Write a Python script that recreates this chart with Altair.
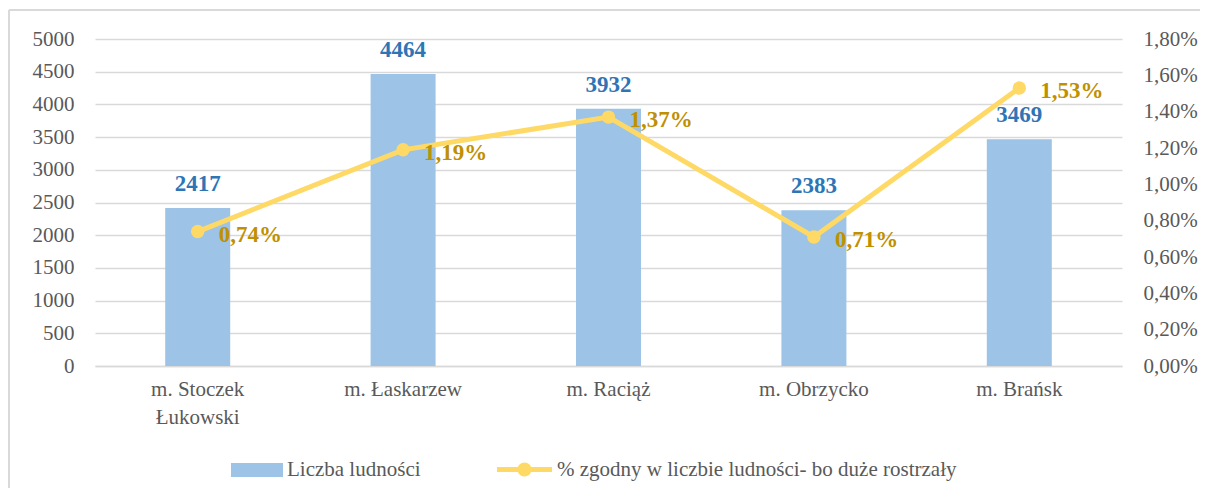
import altair as alt
import pandas as pd

categories = ["m. Stoczek Łukowski", "m. Łaskarzew", "m. Raciąż", "m. Obrzycko", "m. Brańsk"]
population = [2417, 4464, 3932, 2383, 3469]
percent = [0.74, 1.19, 1.37, 0.71, 1.53]
left_ticks = [0, 500, 1000, 1500, 2000, 2500, 3000, 3500, 4000, 4500, 5000]
right_ticks = [0, 0.2, 0.4, 0.6, 0.8, 1.0, 1.2, 1.4, 1.6, 1.8]
bar_series = "Liczba ludności"
line_series = "% zgodny w liczbie ludności- bo duże rostrzały"

df = pd.DataFrame({"cat": categories, "pop": population, "pct": percent})
df["bar_series"] = bar_series
df["line_series"] = line_series

FONT = "Liberation Serif"
GREY = "#595959"
GRID = "#d9d9d9"
W, H = 1027, 327
FS = 21      # regular text size
BFS = 23     # bold data label size

x = alt.X("cat:N", sort=categories, title=None,
          scale=alt.Scale(paddingInner=0, paddingOuter=0),
          axis=alt.Axis(labelAngle=0, ticks=False, domainColor=GRID, domainWidth=1.5,
                        labelFont=FONT, labelFontSize=FS, labelColor=GREY,
                        labelPadding=12, labelLineHeight=28,
                        labelExpr="datum.label == 'm. Stoczek Łukowski' ? ['m. Stoczek', 'Łukowski'] : datum.label"))

base = alt.Chart(df)

left_scale = alt.Scale(domain=[0, 5000], nice=False)
y_left = alt.Y("pop:Q", title=None, scale=left_scale,
               axis=alt.Axis(values=left_ticks, format="d", orient="left", domain=False,
                             ticks=False, grid=True, gridColor=GRID, gridWidth=1.5,
                             labelFont=FONT, labelFontSize=FS, labelColor=GREY, labelPadding=21))

bar_path = "M-1,-0.27L1,-0.27L1,0.27L-1,0.27Z"
line_path = ("M-1,-0.09L1,-0.09L1,0.09L-1,0.09Z"
             "M0.255,0A0.255,0.255,0,1,1,-0.255,0A0.255,0.255,0,1,1,0.255,0Z")

legend_common = dict(title=None, orient="none", symbolStrokeWidth=0, symbolOpacity=1,
                     labelFont=FONT, labelFontSize=FS, labelColor=GREY, labelLimit=0)

bars = base.mark_bar(size=65).encode(
    x=x, y=y_left,
    fill=alt.Fill("bar_series:N", scale=alt.Scale(domain=[bar_series], range=["#9DC3E6"]),
                  legend=alt.Legend(legendX=136, legendY=405, symbolType=bar_path,
                                    symbolSize=2704, labelOffset=4, **legend_common)),
)
bar_text = base.mark_text(baseline="bottom", dy=-12, font=FONT, fontSize=BFS,
                          fontWeight="bold", color="#2E75B6").encode(
    x=x, y=y_left, text=alt.Text("pop:Q", format="d"),
)
left_layer = alt.layer(bars, bar_text)

y_right = alt.Y("pct:Q", title=None, scale=alt.Scale(domain=[0, 1.8], nice=False),
                axis=alt.Axis(values=right_ticks, orient="right", domain=False, ticks=False,
                              grid=False, labelFont=FONT, labelFontSize=FS, labelColor=GREY,
                              labelPadding=21,
                              labelExpr="replace(format(datum.value, '.2f'), '.', ',') + '%'"))

line = base.mark_line(color="#FFD966", strokeWidth=5).encode(x=x, y=y_right)
points = base.mark_circle(size=180, opacity=1).encode(
    x=x, y=y_right,
    color=alt.Color("line_series:N", scale=alt.Scale(domain=[line_series], range=["#FFD966"]),
                    legend=alt.Legend(legendX=402, legendY=403, symbolType=line_path,
                                      symbolSize=3025, labelOffset=5, **legend_common)),
)
pct_text = base.transform_calculate(
    lbl="replace(format(datum.pct, '.2f'), '.', ',') + '%'"
).mark_text(align="left", baseline="middle", dx=21, dy=3, font=FONT, fontSize=BFS,
            fontWeight="bold", color="#BF9000").encode(
    x=x, y=y_right, text="lbl:N",
)
right_layer = alt.layer(line, points, pct_text)

frame_left = alt.Chart(df).mark_rule(color=GRID, strokeWidth=2).encode(
    x=alt.value(-86), y=alt.value(-29), y2=alt.value(449))
frame_top = alt.Chart(df).mark_rule(color=GRID, strokeWidth=2).encode(
    x=alt.value(-86), x2=alt.value(1105), y=alt.value(-29))

chart = alt.layer(left_layer, right_layer, frame_left, frame_top).resolve_scale(
    y="independent", fill="independent", color="independent"
).properties(
    width=W, height=H, padding={"left": 0, "top": 1, "right": 0, "bottom": 0}
).configure(
    background="white", font=FONT
).configure_view(stroke="transparent", strokeWidth=0)

chart.save("out.html", embed_options={"renderer": "svg", "actions": False})
